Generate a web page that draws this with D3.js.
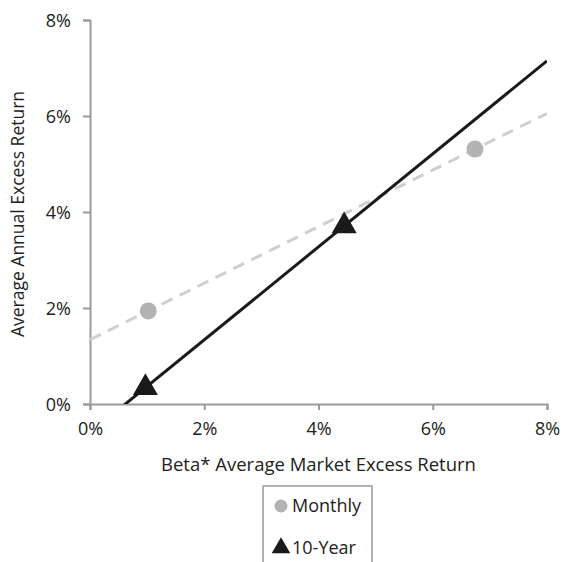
<!DOCTYPE html>
<html>
<head>
<meta charset="utf-8">
<script src="https://cdn.jsdelivr.net/npm/d3@7"></script>
<style>
  body { margin: 0; background: #ffffff; }
  svg { display: block; font-family: "Open Sans", "Noto Sans", sans-serif; }
</style>
</head>
<body>
<svg id="chart" width="562" height="562"></svg>
<script>
// Data (percent)
const monthlyX = [1.02, 6.74];
const monthlyY = [1.94, 5.31];
const tenYearX = [0.97, 4.45];
const tenYearY = [0.34, 3.71];
const xTicks = [0, 2, 4, 6, 8];
const yTicks = [0, 2, 4, 6, 8];
const seriesNames = ["Monthly", "10-Year"];

const svg = d3.select('#chart');

// Plot area
const margin = { top: 20, right: 15, bottom: 158, left: 90 };
const width = 562 - margin.left - margin.right;
const height = 562 - margin.top - margin.bottom;

const g = svg.append('g')
    .attr('transform', `translate(${margin.left},${margin.top})`);

const x = d3.scaleLinear().domain([0, 8]).range([0, width]);
const y = d3.scaleLinear().domain([0, 8]).range([height, 0]);

// Clip for trend lines
svg.append('defs').append('clipPath')
    .attr('id', 'plotClip')
    .append('rect')
    .attr('x', 0).attr('y', 0)
    .attr('width', width).attr('height', height);

// Least-squares trend line
function trend(xs, ys) {
    const mx = d3.mean(xs), my = d3.mean(ys);
    let num = 0, den = 0;
    xs.forEach((v, i) => { num += (v - mx) * (ys[i] - my); den += (v - mx) * (v - mx); });
    const slope = num / den;
    const b = my - slope * mx;
    return [{ x: 0, y: b }, { x: 8, y: b + slope * 8 }];
}

const line = d3.line().x(d => x(d.x)).y(d => y(d.y));

// Axes
g.append('g')
    .attr('transform', `translate(0,${height})`)
    .call(d3.axisBottom(x).tickValues(xTicks).tickSize(6).tickPadding(12)
        .tickFormat(d => d + '%'));

const yAxis = g.append('g')
    .call(d3.axisLeft(y).tickValues(yTicks).tickSize(7).tickPadding(12)
        .tickFormat(d => d + '%'));

g.selectAll('.domain, .tick line')
    .attr('stroke', '#9a9a9a')
    .attr('stroke-width', 2);

g.selectAll('.tick text')
    .attr('fill', '#222')
    .style('font-size', '18px')
    .style('font-family', '"Open Sans", "Noto Sans", sans-serif');

yAxis.selectAll('.tick text').attr('dy', '0.35em');

// Trend lines
const lines = g.append('g').attr('clip-path', 'url(#plotClip)');

lines.append('path')
    .datum(trend(monthlyX, monthlyY))
    .attr('fill', 'none')
    .attr('stroke', '#cfcfcf')
    .attr('stroke-width', 3)
    .attr('stroke-dasharray', '12,8')
    .attr('d', line);

lines.append('path')
    .datum(trend(tenYearX, tenYearY))
    .attr('fill', 'none')
    .attr('stroke', '#1a1a1a')
    .attr('stroke-width', 3)
    .attr('d', line);

// Monthly points
g.selectAll('.monthly')
    .data(monthlyX.map((v, i) => ({ x: v, y: monthlyY[i] })))
    .enter().append('circle')
    .attr('class', 'monthly')
    .attr('cx', d => x(d.x))
    .attr('cy', d => y(d.y))
    .attr('r', 8.5)
    .attr('fill', '#b3b3b6');

// 10-Year points
const tri = d3.symbol().type(d3.symbolTriangle).size(270);
g.selectAll('.tenyear')
    .data(tenYearX.map((v, i) => ({ x: v, y: tenYearY[i] })))
    .enter().append('path')
    .attr('class', 'tenyear')
    .attr('transform', d => `translate(${x(d.x)},${y(d.y)})`)
    .attr('d', tri)
    .attr('fill', '#1a1a1a');

// Axis titles
svg.append('text')
    .attr('x', margin.left + width / 2)
    .attr('y', 471)
    .attr('text-anchor', 'middle')
    .attr('fill', '#222')
    .style('font-size', '18.5px')
    .text('Beta* Average Market Excess Return');

svg.append('text')
    .attr('transform', `translate(24,${margin.top + height / 2 + 2}) rotate(-90)`)
    .attr('text-anchor', 'middle')
    .attr('fill', '#222')
    .style('font-size', '17.5px')
    .text('Average Annual Excess Return');

// Legend
const legend = svg.append('g').attr('transform', 'translate(263,486)');
legend.append('rect')
    .attr('x', 0).attr('y', 0)
    .attr('width', 109).attr('height', 90)
    .attr('fill', '#fff')
    .attr('stroke', '#9a9a9a')
    .attr('stroke-width', 1.5);

legend.append('circle')
    .attr('cx', 18).attr('cy', 20)
    .attr('r', 6.5)
    .attr('fill', '#b3b3b6');
legend.append('text')
    .attr('x', 29).attr('y', 26)
    .attr('fill', '#222')
    .style('font-size', '18px')
    .text(seriesNames[0]);

legend.append('path')
    .attr('transform', 'translate(18,62)')
    .attr('d', d3.symbol().type(d3.symbolTriangle).size(150))
    .attr('fill', '#1a1a1a');
legend.append('text')
    .attr('x', 29).attr('y', 68)
    .attr('fill', '#222')
    .style('font-size', '18px')
    .text(seriesNames[1]);
</script>
</body>
</html>
